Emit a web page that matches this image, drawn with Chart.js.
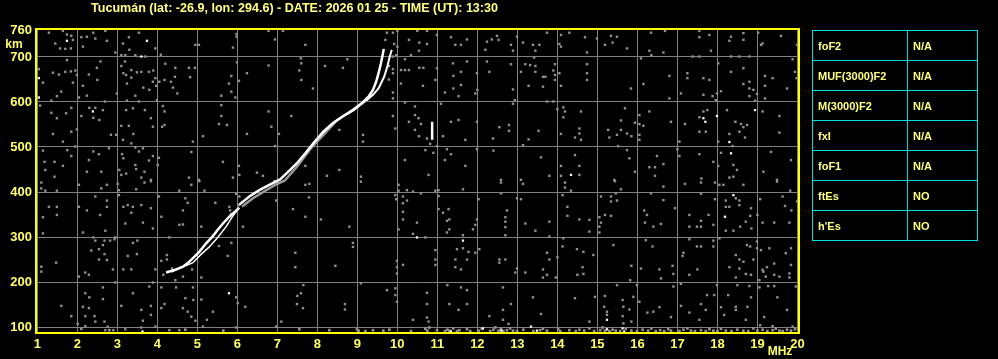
<!DOCTYPE html>
<html>
<head>
<meta charset="utf-8">
<script src="https://cdn.jsdelivr.net/npm/chart.js@4/dist/chart.umd.min.js"></script>
<style>
  body { margin: 0; background: #000; }
  #wrap { position: relative; width: 998px; height: 359px; background: #000; overflow: hidden; }
  #title { position: absolute; left: 91px; top: 1px; color: #ffff80; font: bold 12px "Liberation Sans", Arial, sans-serif; white-space: nowrap; transform-origin: 0 0; }
  #params { position: absolute; left: 812px; top: 30px; border-collapse: collapse; width: 166px; }
  #params td { border: 1px solid #00e0e0; height: 29px; padding: 0 0 0 5px; color: #ffff80; font: bold 11px "Liberation Sans", Arial, sans-serif; }
  #params td.name { width: 89px; }
</style>
</head>
<body>
<div id="wrap">
  <canvas id="iono" width="998" height="359"></canvas>
  <div id="title"></div>
  <table id="params"></table>
</div>
<script>
const titleText = "Tucumán (lat: -26.9, lon: 294.6) - DATE: 2026 01 25 - TIME (UT): 13:30";
const xTicks = [1, 2, 3, 4, 5, 6, 7, 8, 9, 10, 11, 12, 13, 14, 15, 16, 17, 18, 19, 20];
const yTicks = [100, 200, 300, 400, 500, 600, 700, 760];

const paramNames = ["foF2", "MUF(3000)F2", "M(3000)F2", "fxI", "foF1", "ftEs", "h'Es"];
const paramValues = ["N/A", "N/A", "N/A", "N/A", "N/A", "NO", "NO"];

// traces (MHz, km)
const oLower = [[4.22,221],[4.47,228],[4.64,234],[4.76,242],[4.89,253],[5.05,267],[5.22,286],[5.39,302],[5.51,316],[5.64,330],[5.80,345],[5.95,357],[6.05,365]];
const oUpper = [[6.05,372],[6.30,390],[6.55,404],[6.80,416],[7.07,428],[7.32,449],[7.49,464],[7.70,486],[7.90,508],[8.15,534],[8.40,554],[8.65,569],[8.90,582],[9.11,597],[9.28,612],[9.39,627],[9.47,645],[9.53,664],[9.59,686],[9.64,708],[9.66,718]];
const xLower = [[4.35,222],[4.60,232],[4.89,243],[5.10,262],[5.30,278],[5.51,299],[5.72,323],[5.89,347],[6.00,360]];
const xMid = [[6.12,368],[6.39,386],[6.72,404],[6.97,417],[7.18,425],[7.49,456],[7.82,495],[8.11,523],[8.49,559],[8.82,579],[9.22,603]];
const xTop = [[9.22,603],[9.39,616],[9.53,630],[9.67,656],[9.75,679],[9.80,697],[9.86,716]];
const spike = [[10.87,516],[10.87,556]];

// scattered echoes
const noiseWhite = [[1.74,736],[3.74,736],[3.60,701],[1.04,653],[1.04,610],[2.39,579],[5.79,175],[3.63,90],[10.49,299],[11.64,292],[14.34,438],[17.65,564],[17.70,556],[17.99,569],[18.30,511],[18.34,486],[18.94,582],[18.40,393],[18.19,345],[15.24,116],[15.24,95],[15.63,97],[15.67,90],[11.34,90],[12.14,97],[12.60,92],[13.34,101],[13.49,92]];

const noiseGray = [
[1.29,754],[1.64,758],[1.74,750],[1.85,747],[1.89,738],[1.45,730],[1.57,719],[1.70,718],[1.84,719],[2.10,744],[2.24,745],[2.40,754],[2.45,741],[2.70,758],[2.74,736],[2.14,723],[2.95,710],[3.10,704],[3.20,704],[3.29,744],[3.30,716],[3.14,730],[3.45,704],[3.54,754],[3.70,701],[3.95,719],[4.09,705],[4.95,727],[5.04,727],[5.89,721],[5.98,751],[5.98,745],[6.78,758],[6.94,739],[7.14,758],
[1.74,693],[2.58,690],[1.04,673],[1.39,665],[1.54,661],[1.70,667],[1.84,668],[1.89,643],[1.95,670],[1.99,660],[2.29,661],[2.49,676],[2.50,649],[3.19,690],[3.10,680],[3.15,664],[3.22,660],[3.24,641],[3.35,671],[3.35,654],[3.49,666],[3.60,667],[3.79,667],[3.90,670],[3.89,645],[3.95,653],[4.05,645],[4.18,649],[3.97,636],[3.65,632],[3.80,627],[4.20,685],[4.45,676],[4.44,656],[4.34,645],[4.39,632],[4.50,619],[4.79,676],[4.94,676],[4.82,655],[5.85,658],[5.79,641],[5.85,623],[6.04,647],[5.95,610],[6.24,664],[6.78,681],[5.99,688],
[1.14,643],[2.14,636],[1.60,623],[1.49,613],[1.35,603],[2.04,610],[2.24,614],[2.69,601],[2.99,619],[3.24,603],[3.45,614],[3.54,601],[3.99,604],[5.60,614],
[1.07,592],[1.35,576],[1.49,564],[1.72,575],[1.85,587],[2.30,587],[2.40,565],[2.45,587],[2.55,560],[2.64,582],[2.10,569],[1.99,539],[1.85,534],[1.39,529],[1.64,512],[3.22,582],[3.39,586],[3.69,582],[3.84,564],[4.14,591],[4.18,579],[4.12,545],[4.18,549],[3.89,545],[3.10,547],[3.29,547],[3.40,529],[2.97,527],[2.84,527],[3.14,516],[3.35,508],[4.89,512],[5.14,524],[5.60,593],[5.60,569],[5.54,551],[5.74,549],[6.24,529],[6.78,579],[6.85,545],[7.04,529],[6.94,502],
[1.14,492],[1.75,493],[1.85,480],[1.95,501],[2.40,490],[2.54,484],[2.29,471],[2.79,497],[3.12,484],[3.15,475],[3.45,499],[3.64,497],[3.54,490],[3.89,480],[3.79,470],[4.04,476],[4.01,460],[3.45,460],[3.22,441],[3.05,449],[3.10,438],[3.47,451],[3.68,445],[3.60,432],[3.84,427],[2.60,445],[2.24,445],[1.64,458],[1.43,467],[1.18,467],[1.20,449],[1.43,434],[4.85,489],[4.79,432],[5.04,427],[5.64,467],[6.04,458],[6.05,438],[5.89,432],[6.49,443],[6.64,436],[6.93,424],
[7.70,727],[7.59,697],[7.60,686],[7.55,670],[7.60,649],[7.89,630],[8.19,680],[8.64,676],[8.75,695],[9.74,754],[9.89,754],[10.00,758],[9.70,738],[9.92,729],[10.00,723],[9.97,704],[9.89,701],[9.79,680],[9.89,673],[9.89,664],[9.79,650],[10.09,671],[10.19,671],[10.29,671],[10.19,695],[10.09,641],[9.89,621],[9.89,608],[10.19,599],[10.29,738],[10.50,758],[10.74,758],[10.99,749],[10.55,732],[10.74,729],[10.34,704],[10.54,714],[10.55,676],[10.65,676],[10.99,675],[10.95,649],[10.64,636],[11.34,744],[11.45,727],[11.59,727],[11.74,739],[11.39,686],[11.74,690],[11.59,667],[11.40,658],[11.59,638],[11.19,621],[11.40,630],[11.53,613],[11.99,664],[11.95,619],[12.00,627],[12.24,734],[12.20,716],[12.36,739],[12.49,747],[12.53,738],[12.24,690],[12.30,667],[12.84,727],[12.89,714],[12.99,745],[13.14,732],[13.39,727],[13.55,727],[13.45,714],[13.42,699],[13.20,684],[13.32,682],[13.45,680],[13.45,667],[13.09,667],[13.28,636],[12.89,628],[12.84,684],[13.64,656],[13.64,634],
[7.35,569],[7.70,458],[8.24,436],[8.55,538],[8.55,449],[9.14,527],[9.14,512],[9.09,434],[9.95,541],[9.89,569],[10.19,471],[10.29,556],[10.44,590],[10.44,571],[10.53,564],[10.44,538],[10.54,524],[10.59,551],[10.74,519],[10.70,493],[10.82,507],[10.99,502],[10.90,487],[11.14,524],[11.09,596],[11.24,495],[11.34,484],[11.19,471],[11.34,556],[11.53,560],[11.70,516],[11.70,458],[11.99,495],[11.99,556],[12.39,519],[12.40,492],[12.55,544],[12.79,549],[12.79,536],[12.94,604],[12.89,596],[13.14,504],[13.28,517],[13.53,536],[13.59,477],[12.59,427],[13.09,427],[10.78,438],
[13.74,754],[14.09,749],[14.30,754],[14.69,744],[14.99,741],[15.34,747],[15.49,745],[15.38,732],[15.19,727],[14.05,729],[14.09,723],[14.74,710],[15.74,719],[16.09,697],[16.34,754],[16.30,714],[16.35,704],[16.65,710],[16.69,758],[17.55,758],[17.55,744],[17.80,749],[17.84,714],[17.38,701],[17.55,701],[18.34,745],[18.30,736],[18.65,753],[18.65,738],[19.02,754],[19.13,730],[19.09,727],[19.59,747],[19.99,727],[19.88,695],[18.34,701],[18.55,701],[18.80,701],
[13.94,684],[13.90,670],[13.94,660],[13.94,649],[14.05,664],[14.09,636],[13.70,656],[14.74,684],[14.74,664],[14.74,649],[15.84,630],[16.15,640],[16.80,658],[16.80,608],[17.09,619],[17.25,664],[17.25,653],[17.65,653],[17.80,649],[17.65,616],[17.88,613],[17.96,604],[17.99,619],[18.09,624],[18.02,686],[18.34,667],[18.65,675],[18.65,640],[18.80,645],[18.80,630],[18.90,627],[18.99,618],[18.80,613],[18.94,603],[19.19,658],[19.19,636],[19.19,608],[19.38,653],[19.74,630],[19.94,667],[19.98,653],[13.74,601],[13.90,601],
[14.00,584],[14.15,588],[14.19,579],[14.15,566],[14.59,579],[15.69,586],[15.59,559],[15.94,554],[16.05,571],[16.05,551],[16.15,547],[16.30,579],[16.84,556],[17.19,551],[17.55,566],[17.65,579],[17.75,582],[18.24,582],[18.45,556],[18.59,551],[18.65,544],[18.74,549],[19.13,579],[19.55,569],[19.55,532],[14.55,541],[14.55,530],[14.44,521],[14.59,516],[14.09,529],[15.27,538],[15.30,521],[15.59,538],[15.49,527],[15.74,530],[15.85,524],[16.05,527],[16.05,516],[15.52,502],[15.74,493],[17.05,512],[17.00,495],[17.55,534],[17.71,534],[18.02,512],[18.30,529],[18.55,534],[18.69,521],[18.38,502],[18.09,487],[17.55,484],[17.05,480],[14.44,482],[14.55,458],[14.09,458],[13.80,436],[14.09,436],[14.55,438],[15.42,427],[15.80,475],[15.94,445],[16.49,480],[16.30,455],[16.44,455],[16.65,462],[16.44,436],[17.60,430],[17.90,467],[18.02,458],[18.40,460],[18.49,449],[18.40,434],[18.30,432],[19.15,445],[19.34,489],[19.84,471],[19.49,427],
[1.10,421],[1.10,408],[1.20,403],[1.49,403],[2.04,416],[2.60,408],[2.74,416],[3.01,418],[3.04,404],[3.04,393],[3.47,406],[3.68,421],[3.84,424],[4.55,403],[4.85,416],[5.05,424],[5.18,403],[1.29,367],[1.49,367],[1.49,349],[1.14,344],[2.04,367],[2.24,359],[2.45,390],[2.74,381],[2.74,367],[2.57,349],[3.15,367],[3.26,371],[3.39,367],[3.35,354],[3.60,371],[3.84,364],[4.04,390],[4.10,345],[4.64,359],[4.70,386],[4.76,376],[3.20,330],[3.64,332],[3.89,319],[4.55,327],[4.64,328],[1.14,308],[2.14,310],[2.70,314],[2.45,292],[2.40,299],[2.68,292],[2.64,282],[2.54,273],[2.35,270],[2.82,292],[2.93,295],[2.95,299],[3.39,287],[3.50,292],[3.26,258],[3.49,262],[2.68,262],[2.74,249],[2.54,250],[4.30,299],[5.10,323],[5.45,376],[5.80,367],[5.82,359],[5.84,351],[5.97,396],[6.05,390],[6.04,371],[6.14,323],[5.85,287],[5.76,258],[5.54,280],
[1.47,243],[1.10,234],[1.10,223],[2.04,212],[2.20,221],[2.29,216],[2.89,228],[3.15,228],[3.35,228],[3.95,228],[4.24,260],[4.24,250],[4.10,247],[4.15,216],[4.37,230],[4.45,204],[4.87,228],[4.64,212],[5.10,210],[3.89,199],[3.80,190],[4.10,188],[4.47,188],[4.89,188],[2.64,188],[2.95,199],[2.20,175],[2.30,166],[2.64,162],[2.14,145],[2.29,142],[1.85,124],[1.60,147],[2.43,124],[2.45,112],[2.20,124],[2.68,112],[2.76,101],[2.20,102],[2.01,107],[3.10,147],[3.39,175],[3.60,138],[3.64,114],[3.84,147],[3.84,127],[3.95,101],[3.60,99],[4.10,142],[4.18,151],[4.64,142],[4.76,134],[4.70,164],[4.90,160],[5.10,161],[4.85,123],[4.95,114],[5.24,116],[5.39,134],[5.97,166],[6.01,153],[6.20,145],[6.97,381],[7.10,112],[6.97,101],[5.97,99],[5.14,101],[4.55,93],[4.30,93],[3.20,95],[2.90,93],[2.70,93],
[7.70,416],[7.80,418],[7.79,388],[7.39,362],[7.70,345],[8.09,339],[8.80,323],[9.09,423],[10.03,416],[10.03,403],[9.95,393],[9.97,384],[10.14,390],[10.24,404],[10.39,401],[10.24,381],[10.14,375],[10.59,397],[10.95,403],[11.03,404],[11.03,391],[11.03,362],[11.14,354],[11.28,362],[11.24,336],[11.30,339],[11.30,317],[11.24,310],[11.64,406],[12.03,384],[11.89,317],[11.95,327],[11.99,339],[11.64,304],[12.59,421],[12.59,397],[12.74,359],[12.70,344],[12.70,334],[12.70,322],[12.70,304],[12.99,386],[13.09,384],[13.14,418],[13.20,330],[13.45,314],[10.14,356],[10.14,339],[10.03,317],[10.49,332],[10.39,307],[10.70,299],[8.89,287],[8.89,278],[7.45,265],[7.45,233],[8.45,236],[9.99,247],[9.99,233],[9.99,219],[10.14,238],[10.95,271],[10.95,250],[10.95,238],[11.49,273],[11.64,275],[11.78,267],[11.95,265],[12.05,273],[11.45,250],[11.45,233],[11.59,228],[11.74,250],[12.55,250],[12.55,243],[12.70,250],[12.99,230],[12.95,221],[13.20,221],[13.64,228],[13.64,210],
[9.09,197],[7.65,193],[7.59,175],[7.50,169],[7.49,151],[7.64,142],[8.69,151],[8.69,139],[9.74,182],[9.95,186],[9.95,171],[9.99,156],[10.74,176],[10.74,151],[10.74,121],[10.78,112],[10.39,116],[11.25,193],[11.59,188],[11.74,182],[11.74,151],[11.30,151],[11.53,138],[12.30,124],[12.64,188],[12.84,151],[12.64,138],[12.64,116],[12.78,107],[13.39,166],[13.59,129],
[14.19,421],[14.19,410],[14.34,403],[14.13,393],[15.09,390],[15.34,390],[15.34,379],[15.46,397],[15.49,381],[15.59,406],[15.44,424],[16.17,359],[16.34,397],[16.65,412],[16.65,382],[16.24,349],[16.19,332],[16.40,323],[16.59,329],[16.94,364],[17.19,418],[17.59,421],[17.59,396],[17.94,421],[17.94,384],[18.05,416],[18.15,416],[18.65,416],[19.49,423],[19.63,390],[19.82,403],[19.69,369],[19.85,359],[19.99,379],[18.21,381],[18.21,367],[18.30,367],[18.46,386],[18.55,381],[18.55,371],[18.84,364],[18.82,347],[18.71,334],[19.00,349],[19.13,332],[19.42,332],[19.80,332],[19.07,384],[17.30,349],[17.78,349],[17.59,336],[17.49,323],[17.59,323],[17.30,323],[17.90,327],[18.21,314],[18.40,314],[18.57,323],[18.85,319],[14.25,367],[14.25,347],[14.55,339],[14.80,338],[14.80,312],[15.05,344],[15.09,332],[15.19,349],[15.05,323],[15.05,310],[15.34,347],[13.80,334],[13.80,301],[14.15,297],
[16.21,293],[16.38,279],[17.30,295],[17.90,292],[17.59,279],[17.49,279],[17.90,279],[18.05,297],[17.15,265],[17.13,258],[18.46,260],[18.55,250],[18.65,245],[18.90,250],[18.74,282],[18.82,279],[18.99,290],[18.99,275],[19.09,271],[19.30,275],[19.84,275],[19.71,264],[19.42,241],[19.13,227],[19.24,233],[19.84,238],[19.80,219],[19.80,210],[13.74,265],[13.80,250],[14.00,255],[14.13,279],[14.49,273],[14.65,267],[14.90,260],[14.63,233],[14.65,218],[14.50,216],[13.96,210],[13.74,216],[15.40,282],[15.85,236],[16.09,230],[15.82,204],[16.55,228],[16.88,236],[16.90,218],[16.59,208],[17.50,228],[17.30,216],[18.30,233],[18.55,230],[18.46,210],[18.71,218],[18.84,216],[19.05,204],[19.15,223],[19.21,212],[19.42,216],[19.55,212],[18.80,191],[19.05,188],[19.27,191],[19.42,191],[19.96,190],[15.49,193],[15.99,193],[16.90,190],[17.09,196],[17.99,193],[18.50,193],
[14.44,164],[14.94,167],[15.19,169],[15.63,160],[15.65,145],[15.90,167],[16.05,156],[15.80,139],[15.63,124],[15.65,108],[15.85,112],[16.25,132],[16.40,134],[16.55,144],[16.84,122],[17.09,147],[17.30,132],[17.59,151],[17.74,171],[17.92,171],[17.55,116],[17.71,138],[18.09,144],[18.46,145],[18.46,138],[18.75,145],[18.84,166],[19.17,122],[19.50,166],[19.74,138],[18.17,127],[18.27,171],[18.71,116],[19.07,104],[19.38,102],[19.88,101],[14.80,112],[15.17,145],[15.24,127],[15.24,134]
];

// ground clutter along the lowest heights
const clutter = [
[8.99,95],[9.03,92],[9.20,91],[9.39,93],[9.65,92],[9.80,94],[10.34,91],[10.70,96],[10.75,92],[10.80,99],[10.99,93],[11.19,91],[11.25,94],[11.30,92],[11.40,97],[11.49,91],[11.55,93],[11.74,95],[11.82,91],[12.03,92],[12.11,96],[12.32,91],[12.40,94],[12.45,99],[12.53,92],[12.59,95],[12.65,91],[12.74,93],[12.82,97],[12.89,92],[12.99,91],[13.15,94],[13.40,91],[13.57,93],[13.64,96],
[13.74,92],[14.02,95],[14.07,91],[14.30,93],[14.46,91],[14.55,94],[14.67,92],[14.80,97],[14.92,91],[15.07,93],[15.13,99],[15.19,92],[15.30,91],[15.38,94],[15.46,92],[15.57,91],[15.71,96],[15.85,92],[15.99,91],[16.13,94],[16.27,92],[16.35,97],[16.46,91],[16.57,93],[16.67,91],[16.77,95],[16.84,92],[17.05,91],[17.15,94],[17.25,97],[17.34,92],[17.44,91],[17.59,93],[17.71,91],[17.80,95],[17.90,92],[18.00,91],[18.09,96],[18.21,92],[18.35,91],[18.50,94],[18.65,92],[18.77,91],[18.90,97],[19.00,92],[19.13,94],[19.25,91],[19.38,93],[19.46,96],[19.55,92],[19.63,91],[19.74,94],[19.84,92],[19.94,95],
[2.10,96],[2.80,93],[4.70,94],[5.65,92],[7.55,95],[8.30,93]
];

document.getElementById("title").textContent = titleText;
const tbl = document.getElementById("params");
paramNames.forEach((n, i) => {
  const tr = document.createElement("tr");
  tr.innerHTML = '<td class="name"></td><td></td>';
  tr.children[0].textContent = n;
  tr.children[1].textContent = paramValues[i];
  tbl.appendChild(tr);
});
// squeeze the title into the width it takes in the original
const titleEl = document.getElementById("title");
const tw = titleEl.getBoundingClientRect().width;
titleEl.style.transform = "scaleX(" + (407 / tw) + ")";

const pts = arr => arr.map(p => ({ x: p[0], y: p[1] }));
const YELLOW = "#ffff66";
const tickFont = { family: "'Liberation Sans', Arial, sans-serif", size: 13, weight: "bold" };

const lineSet = (data, color, width) => ({
  data: pts(data), showLine: true, borderColor: color, borderWidth: width,
  pointRadius: 0, fill: false, tension: 0
});
const dotSet = (data, color, r) => ({
  data: pts(data), showLine: false, pointStyle: "rect", pointRadius: r,
  backgroundColor: color, borderWidth: 0, pointHoverRadius: r
});

const frame = {
  id: "frame",
  afterDraw(chart) {
    const { ctx, chartArea: a } = chart;
    ctx.save();
    ctx.strokeStyle = "#ffff00";
    ctx.lineWidth = 2;
    ctx.strokeRect(a.left, a.top, a.right - a.left, a.bottom - a.top);
    ctx.fillStyle = YELLOW;
    ctx.font = "bold 12px 'Liberation Sans', Arial, sans-serif";
    ctx.textAlign = "center";
    ctx.textBaseline = "middle";
    ctx.fillText("km", 14, 45);
    ctx.fillText("MHz", 780, 352);
    ctx.restore();
  }
};

new Chart(document.getElementById("iono").getContext("2d"), {
  type: "scatter",
  data: {
    datasets: [
      lineSet(oLower, "#ffffff", 2.5),
      lineSet(oUpper, "#ffffff", 2.5),
      lineSet(xLower, "#ffffff", 1.5),
      lineSet(xMid, "#9a9a9a", 2.5),
      lineSet(xTop, "#ffffff", 2),
      lineSet(spike, "#ffffff", 2.5),
      dotSet(noiseWhite, "#ffffff", 1.6),
      dotSet(clutter, "#909090", 1.9),
      dotSet(noiseGray, "#909090", 1.7)
    ]
  },
  options: {
    responsive: false,
    animation: false,
    layout: { padding: { top: 29, right: 199, left: 0, bottom: 0 } },
    plugins: { legend: { display: false }, tooltip: { enabled: false } },
    scales: {
      x: {
        type: "linear", min: 0.9675, max: 20.04,
        afterBuildTicks: s => { s.ticks = xTicks.map(v => ({ value: v })); },
        afterFit: s => { s.height = 26; },
        grid: { color: "#808080", lineWidth: 1, drawTicks: false },
        border: { display: false },
        ticks: { color: YELLOW, font: tickFont, padding: 4, maxRotation: 0, autoSkip: false }
      },
      y: {
        type: "linear", min: 86.7, max: 762.2,
        afterBuildTicks: s => { s.ticks = yTicks.map(v => ({ value: v })); },
        afterFit: s => { s.width = 36; },
        grid: { color: c => (c.tick && c.tick.value === 760 ? "rgba(0,0,0,0)" : "#808080"), lineWidth: 1, drawTicks: false },
        border: { display: false },
        ticks: { color: YELLOW, font: tickFont, padding: 4, autoSkip: false }
      }
    }
  },
  plugins: [frame]
});
</script>
</body>
</html>
